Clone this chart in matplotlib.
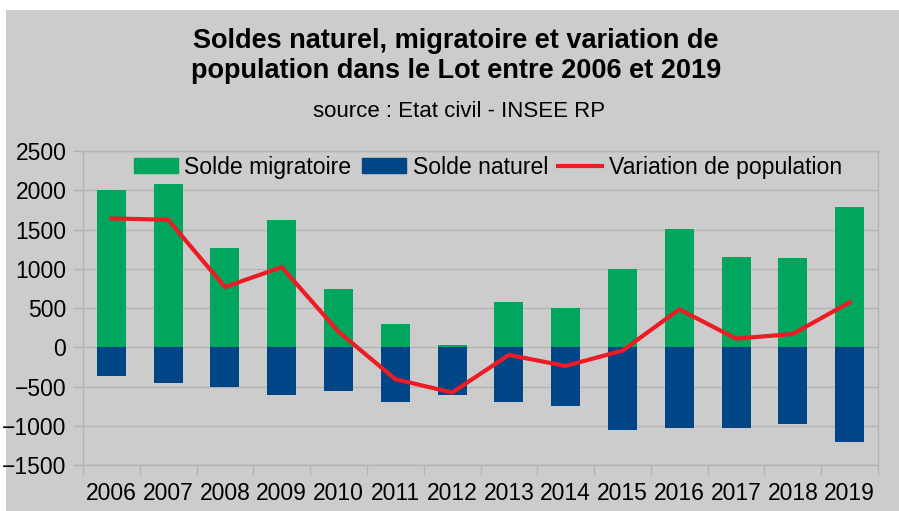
import matplotlib.pyplot as plt
from matplotlib.patches import Rectangle
from matplotlib.lines import Line2D
import numpy as np

plt.rcParams['font.family'] = ['Liberation Sans', 'DejaVu Sans']

annees = ['2006', '2007', '2008', '2009', '2010', '2011', '2012',
          '2013', '2014', '2015', '2016', '2017', '2018', '2019']
solde_migratoire = [2000, 2075, 1260, 1615, 738, 293, 25,
                    572, 496, 992, 1501, 1145, 1132, 1781]
solde_naturel = [-361, -450, -501, -603, -552, -692, -607,
                 -692, -743, -1048, -1023, -1035, -972, -1201]
variation = [1641, 1624, 767, 1021, 198, -407, -577,
             -98, -238, -43, 483, 110, 169, 572]

vert = '#00a65d'
bleu = '#004586'
rouge = '#ed1c24'
fond = '#cccccc'
grille = '#b3b3b3'

W, H = 899, 511
fig = plt.figure(figsize=(W / 100, H / 100), dpi=100)
fig.patch.set_facecolor('white')
fig.patches.append(Rectangle((6 / W, 0), 1 - 6 / W, 1 - 10 / H,
                             transform=fig.transFigure, facecolor=fond,
                             edgecolor='none', zorder=-10))

ax = fig.add_axes([83 / W, 46 / H, (878 - 83) / W, (465 - 151) / H])
ax.set_facecolor(fond)

x = np.arange(len(annees))
ax.bar(x, solde_migratoire, width=0.51, color=vert, zorder=3)
ax.bar(x, solde_naturel, width=0.51, color=bleu, zorder=3)
ax.plot(x, variation, color=rouge, lw=3, zorder=4, solid_joinstyle='miter')

ax.set_xlim(-0.5, len(annees) - 0.5)
ax.set_ylim(-1500, 2500)
ax.set_yticks(range(-1500, 2501, 500))
ax.set_xticks(x)
ax.set_xticklabels(annees)
ax.set_xticks(np.arange(-0.5, len(annees), 1), minor=True)
ax.tick_params(axis='x', which='major', length=0, pad=12, labelsize=16.5)
ax.tick_params(axis='x', which='minor', length=7, color=grille, width=1)
ax.tick_params(axis='y', length=7, color=grille, width=1, pad=5, labelsize=16.5)
ax.yaxis.grid(True, color=grille, lw=1, zorder=0)
for s in ax.spines.values():
    s.set_color(grille)
    s.set_linewidth(1)

handles = [Rectangle((0, 0), 1, 1, color=vert),
           Rectangle((0, 0), 1, 1, color=bleu),
           Line2D([], [], color=rouge, lw=3)]
labels = ['Solde migratoire', 'Solde naturel', 'Variation de population']
fig.legend(handles, labels, loc='center', bbox_to_anchor=(488 / W, 1 - 167 / H),
           ncol=3, frameon=False, fontsize=16.6, handlelength=1.9,
           handleheight=0.6, handletextpad=0.3, columnspacing=0.45,
           borderpad=0)

fig.text(456 / W, 1 - 56 / H,
         'Soldes naturel, migratoire et variation de\npopulation dans le Lot entre 2006 et 2019',
         ha='center', va='center', fontsize=19.5, fontweight='bold', linespacing=1.25)
fig.text(459 / W, 1 - 111 / H, 'source : Etat civil - INSEE RP',
         ha='center', va='center', fontsize=16)

fig.savefig('out.png', dpi=100, facecolor=fig.get_facecolor())
